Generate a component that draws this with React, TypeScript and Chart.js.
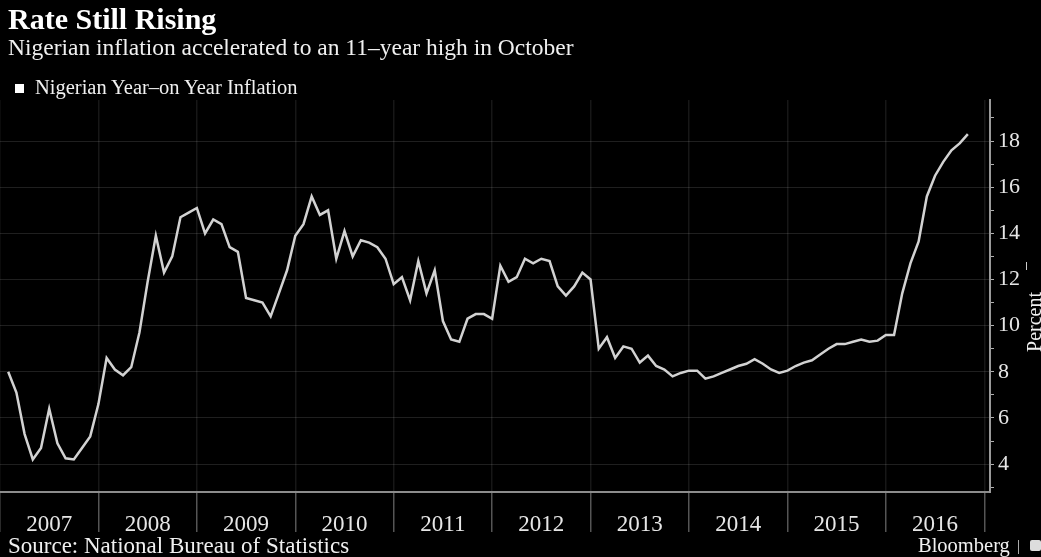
import React, { useEffect, useRef } from "react";
import { Chart, registerables } from "chart.js";

Chart.register(...registerables);

const years = ["2007", "2008", "2009", "2010", "2011", "2012", "2013", "2014", "2015", "2016"];
const v2007 = [8.0, 7.1, 5.3, 4.2, 4.7, 6.4, 4.9, 4.25, 4.2, 4.7, 5.2, 6.6];
const v2008 = [8.6, 8.1, 7.85, 8.2, 9.7, 11.9, 13.9, 12.3, 13.0, 14.7, 14.9, 15.1];
const v2009 = [14.0, 14.6, 14.4, 13.4, 13.2, 11.2, 11.1, 11.0, 10.4, 11.4, 12.4, 13.9];
const v2010 = [14.4, 15.6, 14.8, 15.0, 12.9, 14.1, 13.0, 13.7, 13.6, 13.4, 12.9, 11.8];
const v2011 = [12.1, 11.1, 12.8, 11.4, 12.4, 10.2, 9.4, 9.3, 10.3, 10.5, 10.5, 10.3];
const v2012 = [12.6, 11.9, 12.1, 12.9, 12.7, 12.9, 12.8, 11.7, 11.3, 11.7, 12.3, 12.0];
const v2013 = [9.0, 9.5, 8.6, 9.1, 9.0, 8.4, 8.7, 8.25, 8.1, 7.8, 7.95, 8.05];
const v2014 = [8.05, 7.7, 7.8, 7.95, 8.1, 8.25, 8.35, 8.55, 8.35, 8.1, 7.95, 8.05];
const v2015 = [8.25, 8.4, 8.5, 8.75, 9.0, 9.2, 9.2, 9.3, 9.4, 9.3, 9.35, 9.6];
const v2016 = [9.6, 11.4, 12.7, 13.65, 15.6, 16.5, 17.1, 17.6, 17.9, 18.3];

const monthly = [...v2007, ...v2008, ...v2009, ...v2010, ...v2011, ...v2012, ...v2013, ...v2014, ...v2015, ...v2016];
const yTickValues = [3, 4, 5, 6, 7, 8, 9, 10, 11, 12, 13, 14, 15, 16, 17, 18, 19];
const xTickValues: number[] = [];
for (let i = 0; i <= years.length * 12; i += 6) xTickValues.push(i);

const FONT = "'Liberation Serif', 'DejaVu Serif', serif";

export default function App() {
  const ref = useRef<HTMLCanvasElement | null>(null);
  useEffect(() => {
    if (!ref.current) return;
    const chart = new Chart(ref.current, {
      type: "line",
      data: {
        datasets: [
          {
            label: "Nigerian Year–on Year Inflation",
            data: monthly.map((v, i) => ({ x: i + 1, y: v })),
            borderColor: "#d2d2d2",
            borderWidth: 2.5,
            pointRadius: 0,
            tension: 0,
            fill: false,
          },
        ],
      },
      options: {
        animation: false,
        responsive: false,
        maintainAspectRatio: false,
        layout: { padding: { top: 100, left: 0, right: 0, bottom: 0 } },
        plugins: { legend: { display: false }, tooltip: { enabled: false } },
        scales: {
          x: {
            type: "linear",
            min: 0,
            max: 120.7,
            afterBuildTicks: (s: any) => {
              s.ticks = xTickValues.map((v) => ({ value: v }));
            },
            afterFit: (s: any) => {
              s.height = 65;
            },
            ticks: {
              autoSkip: false,
              maxRotation: 0,
              color: "#e6e6e6",
              font: { family: FONT, size: 23 },
              padding: -21,
              callback: (v: any) => (v % 12 === 6 ? years[(v - 6) / 12] : ""),
            },
            grid: {
              color: (c: any) => (c.tick && c.tick.value % 12 === 0 ? "rgba(255,255,255,0.09)" : "transparent"),
              tickColor: (c: any) => (c.tick && c.tick.value % 12 === 0 ? "#555" : "transparent"),
              tickLength: 40,
              lineWidth: 1.5,
            },
            border: { color: "#8c8c8c", width: 2 },
          },
          y: {
            position: "right",
            min: 2.79,
            max: 19.78,
            afterBuildTicks: (s: any) => {
              s.ticks = yTickValues.map((v) => ({ value: v }));
            },
            afterFit: (s: any) => {
              s.width = 51;
            },
            ticks: {
              autoSkip: false,
              color: "#e6e6e6",
              font: { family: FONT, size: 22 },
              padding: 4,
              callback: (v: any) => (v % 2 === 0 ? String(v) : ""),
            },
            grid: {
              color: (c: any) => (c.tick && c.tick.value % 2 === 0 ? "rgba(255,255,255,0.12)" : "transparent"),
              tickColor: "#b0b0b0",
              tickLength: 4,
              lineWidth: 1,
            },
            border: { color: "#9a9a9a", width: 2 },
          },
        },
      },
    });
    return () => chart.destroy();
  }, []);

  const txt: React.CSSProperties = { position: "absolute", fontFamily: FONT, color: "#f0f0f0", whiteSpace: "nowrap", lineHeight: 1 };
  return (
    <div style={{ position: "absolute", left: 0, top: 0, width: 1041, height: 557, background: "#000", overflow: "hidden" }}>
      <canvas ref={ref} width={1041} height={557} style={{ position: "absolute", left: 0, top: 0 }} />
      <div style={{ ...txt, left: 8, top: 4, fontSize: 30, fontWeight: "bold", color: "#fff" }}>Rate Still Rising</div>
      <div style={{ ...txt, left: 8, top: 36, fontSize: 23.5 }}>Nigerian inflation accelerated to an 11–year high in October</div>
      <div style={{ position: "absolute", left: 15, top: 84, width: 9, height: 9, background: "#fff" }} />
      <div style={{ ...txt, left: 35, top: 77, fontSize: 20.5 }}>Nigerian Year–on Year Inflation</div>
      <div style={{ ...txt, left: 1034, top: 322, fontSize: 20, transform: "translate(-50%,-50%) rotate(-90deg)", transformOrigin: "center" }}>Percent</div>
      <div style={{ position: "absolute", left: 1026, top: 262, width: 1, height: 8, background: "#ccc" }} />
      <div style={{ ...txt, left: 8, top: 534, fontSize: 23 }}>Source: National Bureau of Statistics</div>
      <div style={{ ...txt, left: 918, top: 535, fontSize: 20.5 }}>Bloomberg</div>
      <div style={{ position: "absolute", left: 1018, top: 540, width: 1, height: 14, background: "#aaa" }} />
      <div style={{ position: "absolute", left: 1030, top: 540, width: 11, height: 11, background: "#ddd", borderRadius: 2 }} />
    </div>
  );
}
